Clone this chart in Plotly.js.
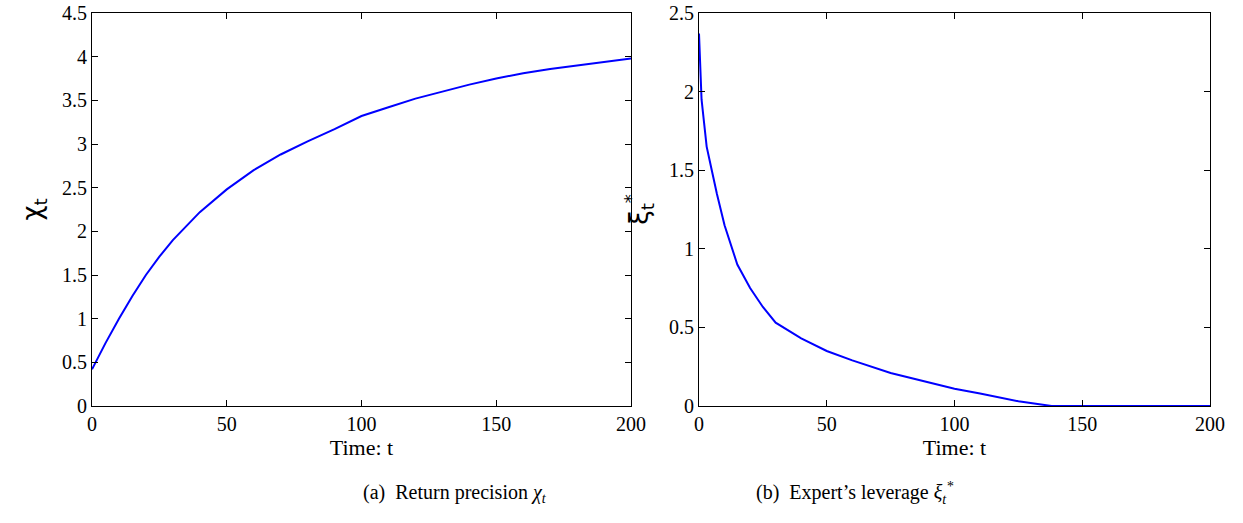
<!DOCTYPE html>
<html><head><meta charset="utf-8">
<script src="https://cdn.plot.ly/plotly-3.0.1.min.js"></script>
<style>body{margin:0;background:#fff}</style></head>
<body><div id="chart" style="width:1243px;height:523px"></div>
<script>
// (a) return precision
const tA = [0, 5, 10, 15, 20, 25, 30, 40, 50, 60, 70, 80, 90, 100, 110, 120, 130, 140, 150, 160, 170, 180, 190, 200];
const chi = [0.42, 0.72, 1.0, 1.26, 1.5, 1.71, 1.9, 2.22, 2.48, 2.7, 2.88, 3.03, 3.17, 3.32, 3.42, 3.52, 3.6, 3.68, 3.75, 3.81, 3.86, 3.9, 3.94, 3.98];
// (b) expert's leverage
const tB = [0, 1, 2, 3, 5, 7, 10, 13, 15, 20, 25, 30, 40, 50, 60, 75, 90, 100, 110, 125, 138, 150, 175, 200];
const xi = [2.37, 1.95, 1.8, 1.65, 1.5, 1.35, 1.15, 1.0, 0.9, 0.75, 0.63, 0.53, 0.43, 0.35, 0.29, 0.21, 0.15, 0.11, 0.08, 0.03, 0, 0, 0, 0];
const yTicksA = [0, 0.5, 1, 1.5, 2, 2.5, 3, 3.5, 4, 4.5];
const yTicksB = [0, 0.5, 1, 1.5, 2, 2.5];

const font = {family: 'Liberation Serif, serif', size: 20, color: '#000'};
const ax = {showline: true, mirror: 'ticks', linecolor: '#000', linewidth: 1, ticks: 'inside', ticklen: 6,
  tickcolor: '#000', showgrid: false, zeroline: false, tickfont: font, ticklabeloverflow: 'allow'};
const layout = {
  width: 1243, height: 523, margin: {l: 0, r: 0, t: 0, b: 0}, showlegend: false,
  paper_bgcolor: '#fff', plot_bgcolor: '#fff', font: font,
  xaxis: Object.assign({}, ax, {domain: [92/1243, 631/1243], range: [0, 200], tickvals: [0, 50, 100, 150, 200],
    title: {text: 'Time: t', font: {family: font.family, size: 22, color: '#000'}, standoff: 2}}),
  yaxis: Object.assign({}, ax, {domain: [1-406/523, 1-13/523], range: [0, 4.5], tickvals: yTicksA,
    title: {text: 'χ<sub>t</sub>', font: {family: 'DejaVu Sans', size: 26}, standoff: 12}}),
  xaxis2: Object.assign({}, ax, {anchor: 'y2', domain: [699/1243, 1210/1243], range: [0, 200], tickvals: [0, 50, 100, 150, 200],
    title: {text: 'Time: t', font: {family: font.family, size: 22, color: '#000'}, standoff: 2}}),
  yaxis2: Object.assign({}, ax, {anchor: 'x2', domain: [1-406/523, 1-13/523], range: [0, 2.5], tickvals: yTicksB,
    title: {text: 'ξ<sub>t</sub><sup>*</sup>', font: {family: 'DejaVu Sans', size: 26}, standoff: 12}}),
  annotations: [
    {text: '(a)  Return precision <i>χ<sub>t</sub></i>', xref: 'paper', yref: 'paper', x: 361/1243, y: 1-493/523,
      yanchor: 'middle', showarrow: false, font: font},
    {text: '(b)  Expert’s leverage <i>ξ<sub>t</sub><sup>*</sup></i>', xref: 'paper', yref: 'paper', x: 955/1243, y: 1-493/523,
      yanchor: 'middle', showarrow: false, font: font}
  ]
};
const data = [
  {x: tA, y: chi, type: 'scatter', mode: 'lines', line: {color: '#0000ff', width: 2}, xaxis: 'x', yaxis: 'y'},
  {x: tB, y: xi, type: 'scatter', mode: 'lines', line: {color: '#0000ff', width: 2}, xaxis: 'x2', yaxis: 'y2', cliponaxis: false}
];
Plotly.newPlot('chart', data, layout, {displayModeBar: false});
</script></body></html>
